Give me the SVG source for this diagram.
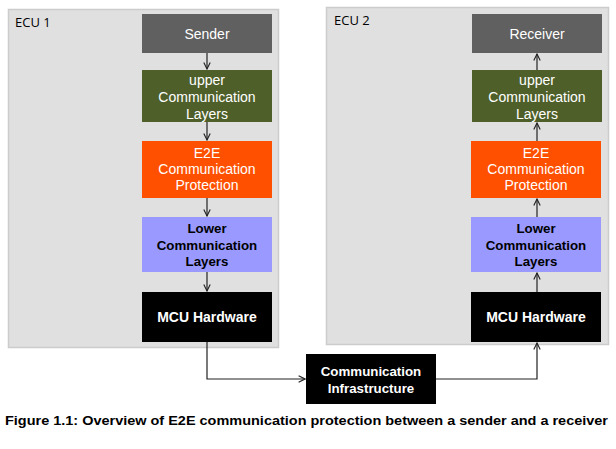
<svg xmlns="http://www.w3.org/2000/svg" width="616" height="449" viewBox="0 0 616 449">
<style>
.ecu{fill:#e0e0e0;stroke:#cccccc;stroke-width:1.5}
.lbl{font-family:"Open Sans","Liberation Sans",sans-serif;font-size:13px;fill:#000}
.t{font-family:"Liberation Sans",Arial,sans-serif;font-size:14px;fill:#fff;text-anchor:middle}
.b{font-weight:bold;font-size:13.3px}
.m{font-size:14px}
.k{fill:#000}
.c{fill:none;stroke:#222;stroke-width:1.2;marker-end:url(#ah)}
.cap{font-family:"Liberation Sans",Arial,sans-serif;font-size:13px;font-weight:bold;fill:#000}
</style>
<defs>
<marker id="ah" viewBox="0 0 10 10" refX="9" refY="5" markerWidth="8" markerHeight="8" markerUnits="userSpaceOnUse" orient="auto">
<path d="M1,1 L9,5 L1,9" fill="none" stroke="#222" stroke-width="1.4"/>
</marker>
</defs>
<rect width="616" height="449" fill="#fff"/>
<g id="ecu1"><rect class="ecu" x="8.5" y="9.5" width="270" height="338"/><text class="lbl" x="15" y="27">ECU 1</text></g>
<g id="ecu2"><rect class="ecu" x="326.5" y="7.5" width="282" height="337"/><text class="lbl" x="334" y="25">ECU 2</text></g>
<g id="sender"><rect x="142" y="14" width="130" height="39" fill="#606060"/><text class="t" x="207" y="39">Sender</text></g>
<g id="upper1"><rect x="142" y="70" width="130" height="52" fill="#4e5f2a"/><text class="t" x="207" y="85">upper</text><text class="t" x="207" y="102">Communication</text><text class="t" x="207" y="119">Layers</text></g>
<g id="e2e1"><rect x="142" y="141" width="130" height="57" fill="#ff5000"/><text class="t" x="207" y="158">E2E</text><text class="t" x="207" y="174">Communication</text><text class="t" x="207" y="190">Protection</text></g>
<g id="lower1"><rect x="142" y="217" width="130" height="55" fill="#9999ff"/><text class="t b k" x="207" y="233">Lower</text><text class="t b k" x="207" y="250">Communication</text><text class="t b k" x="207" y="266">Layers</text></g>
<g id="mcu1"><rect x="142" y="292" width="130" height="50" fill="#000"/><text class="t b m" x="207" y="322">MCU Hardware</text></g>
<g id="receiver"><rect x="472" y="14" width="130" height="39" fill="#606060"/><text class="t" x="537" y="39">Receiver</text></g>
<g id="upper2"><rect x="472" y="70" width="130" height="52" fill="#4e5f2a"/><text class="t" x="537" y="85">upper</text><text class="t" x="537" y="102">Communication</text><text class="t" x="537" y="119">Layers</text></g>
<g id="e2e2"><rect x="471" y="141" width="130" height="57" fill="#ff5000"/><text class="t" x="536" y="158">E2E</text><text class="t" x="536" y="174">Communication</text><text class="t" x="536" y="190">Protection</text></g>
<g id="lower2"><rect x="471" y="217" width="130" height="55" fill="#9999ff"/><text class="t b k" x="536" y="233">Lower</text><text class="t b k" x="536" y="250">Communication</text><text class="t b k" x="536" y="266">Layers</text></g>
<g id="mcu2"><rect x="471" y="292" width="130" height="50" fill="#000"/><text class="t b m" x="536" y="322">MCU Hardware</text></g>
<g id="infra"><rect x="306" y="354" width="130" height="50" fill="#000"/><text class="t b" x="371" y="376">Communication</text><text class="t b" x="371" y="393">Infrastructure</text></g>
<g id="connectors">
<path class="c" d="M207,53 V69"/>
<path class="c" d="M207,122 V140"/>
<path class="c" d="M207,198 V216"/>
<path class="c" d="M207,272 V291"/>
<path class="c" d="M207,342 V379 H305"/>
<path class="c" d="M436,379 H537 V343"/>
<path class="c" d="M537,292 V273"/>
<path class="c" d="M537,217 V199"/>
<path class="c" d="M537,141 V123"/>
<path class="c" d="M537,70 V54"/>
</g>
<text class="cap" x="5" y="425" textLength="603" lengthAdjust="spacingAndGlyphs">Figure 1.1: Overview of E2E communication protection between a sender and a receiver</text>
</svg>
